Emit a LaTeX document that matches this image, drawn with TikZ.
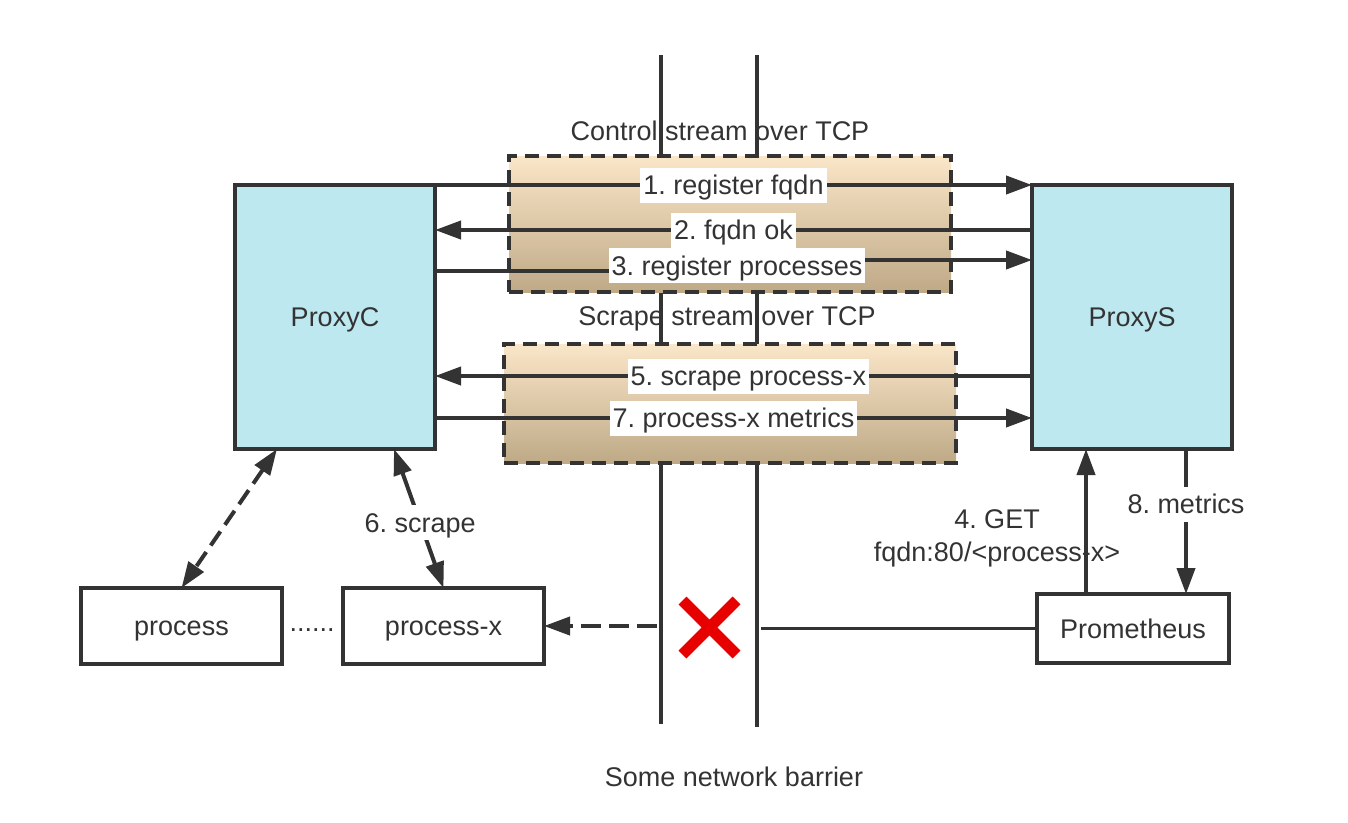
\documentclass[tikz,border=0pt]{standalone}
\usepackage{fontspec}
\setsansfont{Liberation Sans}
\usepackage{xcolor}
\usepackage{tikz}
\usetikzlibrary{arrows.meta}
\frenchspacing
\definecolor{ink}{HTML}{333333}
\definecolor{proxyblue}{HTML}{BDE8EF}
\definecolor{streamtop}{HTML}{FAE6C8}
\definecolor{streambot}{HTML}{BFA987}
\definecolor{crossred}{HTML}{E60000}
\tikzset{
  basenode/.style = {inner sep=0pt, outer sep=0pt,
    text=ink, font=\sffamily\fontsize{27}{33}\selectfont},
  oneline/.style = {text height=24pt, text depth=5pt},% une ligne, centree
  prx_n/.style = {basenode, oneline, rectangle, draw=ink, fill=proxyblue, line width=4pt,
    minimum width=200pt, minimum height=264pt},% proxy, bleu
  prc_n/.style = {basenode, oneline, rectangle, draw=ink, fill=white, line width=4pt,
    minimum width=201pt, minimum height=76pt},% process, blanc
  str_x/.style = {rectangle, draw=ink, line width=4pt, dash pattern=on 14pt off 8pt,
    top color=streamtop, bottom color=streambot},% stream, degrade
  lbl_w/.style = {basenode, oneline, fill=white, inner xsep=3pt, inner ysep=3pt},% label sur fond blanc
  lbl_t/.style = {basenode}% texte seul
}

\begin{document}
\begin{tikzpicture}[x=1pt, y=-1pt, line width=4pt, color=ink,
  >={Triangle[length=26pt,width=18pt]}]
\useasboundingbox (0,0) rectangle (1348,822);
% network barrier
\coordinate (bl_a) at (661,55);
\coordinate (bl_b) at (661,724);
\coordinate (br_a) at (757,55);
\coordinate (br_b) at (757,727);
\draw (bl_a) -- (bl_b);
\draw (br_a) -- (br_b);
% streams
\node [str_x, minimum width=442pt, minimum height=136pt] (ctrl) at (730,224) {};
\node [str_x, minimum width=452pt, minimum height=119pt] (scrp) at (730,403.5) {};
\node [lbl_t] (ctrl_t) at (720,131) {Control stream over TCP};
\node [lbl_t] (scrp_t) at (727,319) {Scrape stream over TCP};
\node [lbl_t] (barr_t) at (734,777) {Some network barrier};
% boxes
\node [prx_n] (proxyc) at (335,317) {ProxyC};
\node [prx_n] (proxys) at (1132,317) {ProxyS};
\node [prc_n] (proc) at (181.5,626) {process};
\node [prc_n] (procx) at (443.5,626) {process-x};
\node [prc_n, minimum width=192pt, minimum height=69pt] (prom) at (1133,628.5) {Prometheus};
\node [lbl_t] (dots) at (312,630) {......};
\node [lbl_t, align=center] (get_t) at (997,538) {4. GET\\fqdn:80/<process-x>};
% control stream
\draw [->] (proxyc.north east) -- (proxys.north west)
  node [lbl_w, midway] (l1) {1. register fqdn};
\draw [->] ([yshift=-45pt]proxys.north west) -- ([yshift=-45pt]proxyc.north east)
  node [lbl_w, midway] (l2) {2. fqdn ok};
\draw [->] ([yshift=-86pt]proxyc.north east) -- ++(302,0) -- ++(0,-11)
  node [lbl_w, midway] (l3) {3. register processes}
  -- ([yshift=-75pt]proxys.north west);
% scrape stream
\draw [->] ([yshift=-191pt]proxys.north west) -- ([yshift=-191pt]proxyc.north east)
  node [lbl_w, pos=0.475] (l5) {5. scrape process-x};
\draw [->] ([yshift=-233pt]proxyc.north east) -- ([yshift=-233pt]proxys.north west)
  node [lbl_w, midway] (l7) {7. process-x metrics};
% local side
\draw [<->, dash pattern=on 17pt off 8pt] ([xshift=42pt]proxyc.south west) -- (proc.north);
\draw [<->] ([xshift=-41pt]proxyc.south east) -- (procx.north)
  node [lbl_w, pos=0.53] (l6) {6. scrape};
\coordinate (cut) at (657,626);
\draw [->, dash pattern=on 20pt off 8pt] (cut) -- (procx.east);
% prometheus side
\coordinate (wall) at (761,628.5);
\draw [line width=3.5pt] (wall) -- (prom.west);
\draw [->] ([xshift=-47pt]prom.north) -- ([xshift=-46pt]proxys.south);
\draw [->] ([xshift=54pt]proxys.south) -- ([xshift=53pt]prom.north)
  node [lbl_w, pos=0.38] (l8) {8. metrics};
% blocked
\coordinate (block) at (709.5,627.5);
\draw [crossred, line width=11pt] (block) ++(-27,-27) -- ++(54,54)
  (block) ++(-27,27) -- ++(54,-54);
\end{tikzpicture}
\end{document}
